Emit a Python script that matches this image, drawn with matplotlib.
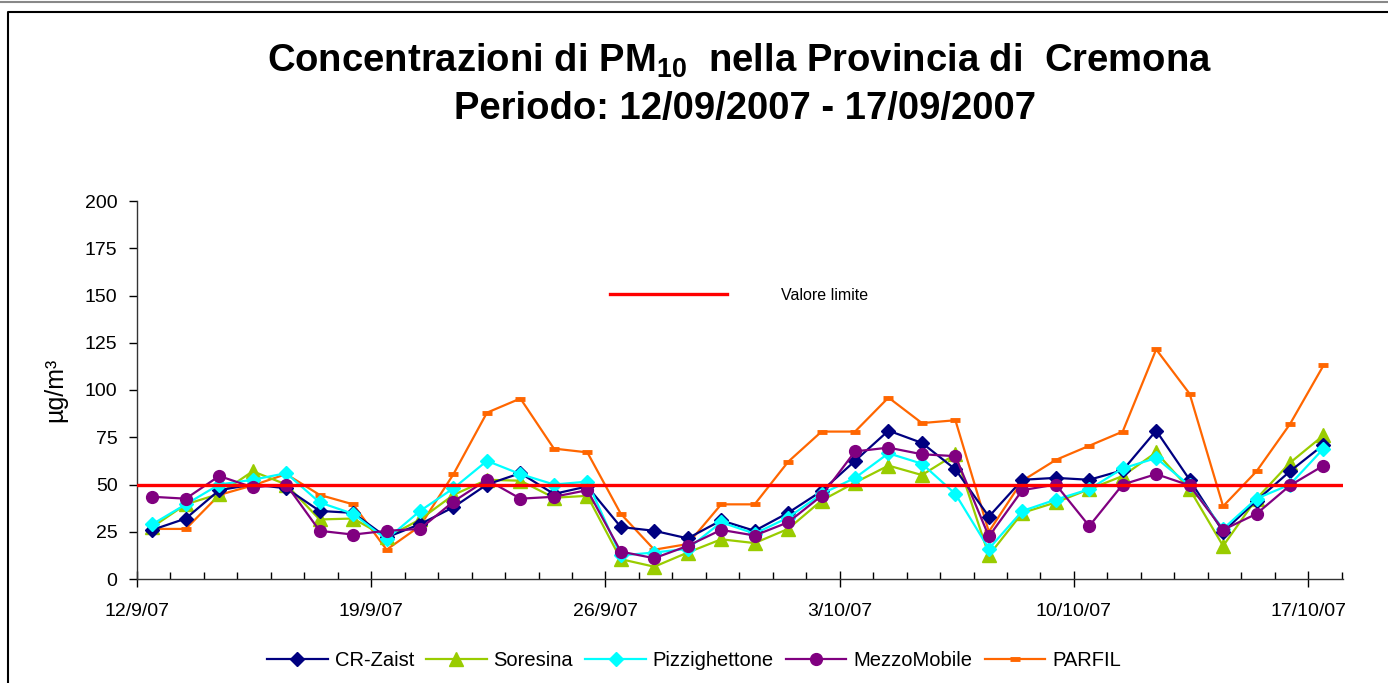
import matplotlib
matplotlib.use("Agg")
import matplotlib.pyplot as plt
import matplotlib.dates as mdates
from matplotlib.lines import Line2D
import numpy as np

plt.rcParams['font.family'] = ['Liberation Sans', 'DejaVu Sans']
plt.rcParams['mathtext.fontset'] = 'custom'
plt.rcParams['mathtext.rm'] = 'Liberation Sans'
plt.rcParams['mathtext.bf'] = 'Liberation Sans:bold'

# giorni 12/9/07 - 17/10/07
days = np.arange('2007-09-12', '2007-10-18', dtype='datetime64[D]')

cr_zaist = [26, 32, 47, 50, 48, 36, 35, 22, 29, 38, 50, 56, 45, 49, 27.5,
            25.5, 21.5, 31, 25.5, 35, 46.5, 62.5, 78.5, 72, 58, 33,
            52.5, 53.5, 52.5, 57.5, 78.5, 52.5, 25, 41.5, 57, 71]
soresina = [27.5, 39.5, 45, 57, 50, 31.5, 32, 22, 31.5, 44.5, 52.5, 52, 43, 44, 10.5,
            6.5, 14, 21, 19, 26.5, 41.5, 51, 60, 55, 66, 12.5,
            35, 40.5, 47.5, 54.5, 67, 47.5, 17.5, 42.5, 61.5, 76]
pizzighettone = [29, 39.5, 50, 52.5, 56, 40.5, 34.5, 21, 36, 48, 62.5, 55.5, 50, 51.5, 12.5,
                 14, 16, 30, 24, 32.5, 45, 53.5, 66.5, 61, 45, 16,
                 36, 42, 47.5, 58.5, 64, 49.5, 26.5, 42.5, 50, 69]
mezzomobile = [43.5, 42.5, 54.5, 48.5, 50, 25.5, 23.5, 25.5, 26.5, 41, 52.5, 42.5, 43.5, 47, 14.5,
               11, 17.5, 26, 23, 30, 44, 67.5, 69.5, 66, 65, 22.5,
               47, 50, 28, 50, 55.5, 49.5, 26, 34.5, 49.5, 60]
parfil = [26.5, 26.5, 44.5, 49.5, 55.5, 44.5, 39.5, 15.5, 28, 55.5, 88, 95.5, 69, 67, 34.5,
          15.5, 18.5, 39.5, 39.5, 62, 78, 78, 96, 82.5, 84, 25,
          52, 63, 70.5, 78, 121.5, 98, 38.5, 57, 82, 113]
valore_limite = 50

tick_dates = np.array(['2007-09-12', '2007-09-19', '2007-09-26',
                       '2007-10-03', '2007-10-10', '2007-10-17'], dtype='datetime64[D]')
tick_labels = ['12/9/07', '19/9/07', '26/9/07', '3/10/07', '10/10/07', '17/10/07']

fig = plt.figure(figsize=(13.88, 6.83), dpi=100)
ax = fig.add_axes([137/1388, 1 - 579/683, (1343 - 137)/1388, (579 - 201)/683])

x = days + np.timedelta64(11, 'h')
lw = 1.6
l1, = ax.plot(x, cr_zaist, color='#000080', marker='D', ms=7.5, lw=lw, label='CR-Zaist', zorder=5)
l2, = ax.plot(x, soresina, color='#99CC00', marker='^', ms=9.5, lw=lw, label='Soresina', zorder=4)
l3, = ax.plot(x, pizzighettone, color='#00FFFF', marker='D', ms=7.5, lw=lw, label='Pizzighettone', zorder=6)
l4, = ax.plot(x, mezzomobile, color='#800080', marker='o', ms=8.5, lw=lw, label='MezzoMobile', zorder=7)
l5, = ax.plot(x, parfil, color='#FF6600', marker='_', ms=7, mew=3.5, lw=lw, label='PARFIL', zorder=3)
lim = ax.axhline(valore_limite, color='#FF0000', lw=2.4, zorder=8)

ax.set_ylim(0, 200)
ax.set_xlim(np.datetime64('2007-09-12T00:00'), np.datetime64('2007-10-18T01:00'))
ax.set_yticks(np.arange(0, 201, 25))
ax.set_xticks(tick_dates)
ax.set_xticklabels(tick_labels)
ax.xaxis.set_minor_locator(mdates.DayLocator())
ax.tick_params(axis='y', direction='out', length=6, width=1, pad=8, labelsize=14)
ax.tick_params(axis='x', which='major', direction='inout', length=12, width=1, pad=11, labelsize=14)
ax.tick_params(axis='x', which='minor', direction='in', length=5, width=1)
for s in ['top', 'right']:
    ax.spines[s].set_visible(False)
for s in ['left', 'bottom']:
    ax.spines[s].set_color('#333333')
    ax.spines[s].set_linewidth(1)

fig.text(55/1388, 1 - 390/683, 'µg/m³', rotation=90, ha='center', va='center', fontsize=18)

fig.text(740/1388, 1 - 61/683, r'Concentrazioni di PM$_{\mathbf{10}}$  nella Provincia di  Cremona',
         ha='center', va='center', fontsize=27.5, fontweight='bold')
fig.text(745/1388, 1 - 109/683, 'Periodo: 12/09/2007 - 17/09/2007',
         ha='center', va='center', fontsize=27.5, fontweight='bold')

fig.legend([l1, l2, l3, l4, l5], ['CR-Zaist', 'Soresina', 'Pizzighettone', 'MezzoMobile', 'PARFIL'],
           loc='center', bbox_to_anchor=(694/1388, 1 - 661/683), ncol=5, frameon=False,
           fontsize=14.5, handlelength=3.0, handletextpad=0.35, columnspacing=0.6)
fig.legend([lim], ['Valore limite'], loc='center left', bbox_to_anchor=(596/1388, 1 - 295/683),
           frameon=False, fontsize=11.5, handlelength=7.3, handletextpad=3.4)

# cornice
fig.add_artist(Line2D([0, 1], [1 - 2/683, 1 - 2/683], color='#888888', lw=1.5))
fig.add_artist(Line2D([8/1388, 8/1388, 1], [0, 1 - 12/683, 1 - 12/683], color='black', lw=1.5))

fig.savefig('out.png', dpi=100)
